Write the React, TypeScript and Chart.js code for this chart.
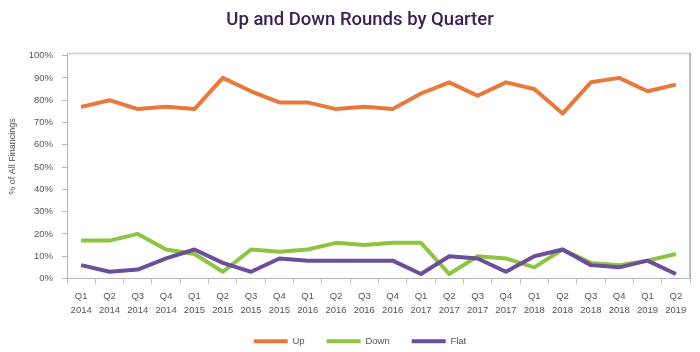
import React, { useEffect, useRef } from "react";
import { Chart, registerables } from "chart.js";

Chart.register(...registerables);

const quarters = ["Q1","Q2","Q3","Q4","Q1","Q2","Q3","Q4","Q1","Q2","Q3","Q4","Q1","Q2","Q3","Q4","Q1","Q2","Q3","Q4","Q1","Q2"];
const years = ["2014","2014","2014","2014","2015","2015","2015","2015","2016","2016","2016","2016","2017","2017","2017","2017","2018","2018","2018","2018","2019","2019"];
const upValues = [77,80,76,77,76,90,84,79,79,76,77,76,83,88,82,88,85,74,88,90,84,87];
const downValues = [17,17,20,13,11,3,13,12,13,16,15,16,16,2,10,9,5,13,7,6,8,11];
const flatValues = [6,3,4,9,13,7,3,9,8,8,8,8,2,10,9,3,10,13,6,5,8,2];
const yTicks = [0,10,20,30,40,50,60,70,80,90,100];

const titleText = "Up and Down Rounds by Quarter";
const yTitleText = "% of All Financings";

const FONT = "'Liberation Sans', Arial, Helvetica, sans-serif";
const TITLE_FONT = "Roboto, 'Liberation Sans', Arial, sans-serif";
const AXIS_COLOR = "#b8b8b8";
const TEXT_COLOR = "#555555";

const framePlugin = {
  id: "frame",
  beforeDatasetsDraw(chart: any) {
    const { ctx, chartArea } = chart;
    const l = Math.round(chartArea.left) + 0.5;
    const r = Math.round(chartArea.right);
    const t = Math.round(chartArea.top) - 2.5;
    const b = chartArea.bottom;
    ctx.save();
    ctx.strokeStyle = AXIS_COLOR;
    ctx.lineWidth = 1;
    ctx.beginPath();
    ctx.moveTo(l, b);
    ctx.lineTo(l, t);
    ctx.stroke();
    ctx.strokeStyle = "#cfcfcf";
    ctx.lineWidth = 1.5;
    ctx.beginPath();
    ctx.moveTo(l, t);
    ctx.lineTo(r, t);
    ctx.stroke();
    ctx.strokeStyle = "#bdbdbd";
    ctx.lineWidth = 2;
    ctx.beginPath();
    ctx.moveTo(r, t - 0.75);
    ctx.lineTo(r, b);
    ctx.stroke();
    // y axis title
    ctx.translate(12.5, 156.5);
    ctx.rotate(-Math.PI / 2);
    ctx.fillStyle = TEXT_COLOR;
    ctx.font = `9px ${FONT}`;
    ctx.textAlign = "center";
    ctx.textBaseline = "middle";
    ctx.fillText(yTitleText, 0, 0);
    ctx.restore();
  },
};

export default function App() {
  const canvasRef = useRef<HTMLCanvasElement | null>(null);

  useEffect(() => {
    if (!canvasRef.current) return;
    const labels = quarters.map((q, i) => [q, years[i]]);
    const chart = new Chart(canvasRef.current, {
      type: "line",
      data: {
        labels,
        datasets: [
          { label: "Up", data: upValues, borderColor: "#E8793B", backgroundColor: "#E8793B", order: 0 },
          { label: "Down", data: downValues, borderColor: "#8DC540", backgroundColor: "#8DC540", order: 2 },
          { label: "Flat", data: flatValues, borderColor: "#6C4E9A", backgroundColor: "#6C4E9A", order: 1 },
        ].map((d) => ({
          ...d,
          borderWidth: 4,
          pointRadius: 0,
          pointHoverRadius: 0,
          tension: 0,
          fill: false,
          borderJoinStyle: "round" as const,
        })),
      },
      options: {
        responsive: false,
        animation: false,
        layout: { padding: { left: 0, right: 0, top: 0, bottom: -4 } },
        plugins: {
          title: {
            display: true,
            text: titleText,
            color: "#3A2157",
            font: { family: TITLE_FONT, size: 18.5, weight: "500" },
            padding: { top: 9, bottom: 24.4 },
          },
          legend: {
            display: true,
            position: "bottom",
            labels: {
              boxWidth: 34,
              boxHeight: 4,
              padding: 22,
              color: TEXT_COLOR,
              font: { family: FONT, size: 9.5 },
              sort: (a: any, b: any) => a.datasetIndex - b.datasetIndex,
              generateLabels: (c: any) =>
                Chart.defaults.plugins.legend.labels
                  .generateLabels(c)
                  .map((it: any) => ({ ...it, lineWidth: 0, strokeStyle: "rgba(0,0,0,0)" })),
            },
          },
          tooltip: { enabled: false },
        },
        scales: {
          x: {
            type: "category",
            offset: true,
            grid: {
              display: true,
              offset: true,
              drawOnChartArea: false,
              drawTicks: true,
              tickLength: 5,
              color: AXIS_COLOR,
            },
            border: { display: true, color: AXIS_COLOR, width: 1 },
            ticks: {
              autoSkip: false,
              maxRotation: 0,
              minRotation: 0,
              padding: 6.5,
              color: TEXT_COLOR,
              font: { family: FONT, size: 9.5, lineHeight: 1.4 },
            },
            afterFit: (s: any) => {
              s.height = 36;
            },
          },
          y: {
            type: "linear",
            position: "left",
            min: 0,
            max: 100,
            afterBuildTicks: (s: any) => {
              s.ticks = yTicks.map((v) => ({ value: v }));
            },
            grid: {
              display: true,
              drawOnChartArea: false,
              drawTicks: true,
              tickLength: 5,
              color: AXIS_COLOR,
            },
            border: { display: false },
            ticks: {
              padding: 9,
              color: TEXT_COLOR,
              font: { family: FONT, size: 9.5 },
              callback: (v: any) => `${v}%`,
            },
            afterFit: (s: any) => {
              s.width = 67;
            },
          },
          yRight: {
            type: "linear",
            position: "right",
            display: true,
            grid: { display: false },
            border: { display: false },
            ticks: { display: false },
            afterFit: (s: any) => {
              s.width = 30;
            },
          },
        },
      },
      plugins: [framePlugin],
    });
    return () => chart.destroy();
  }, []);

  return (
    <div style={{ position: "absolute", left: 0, top: 0, width: 700, height: 352, overflow: "hidden", background: "#fff" }}>
      <canvas ref={canvasRef} width={720} height={352} style={{ display: "block", width: 720, height: 352 }} />
    </div>
  );
}
